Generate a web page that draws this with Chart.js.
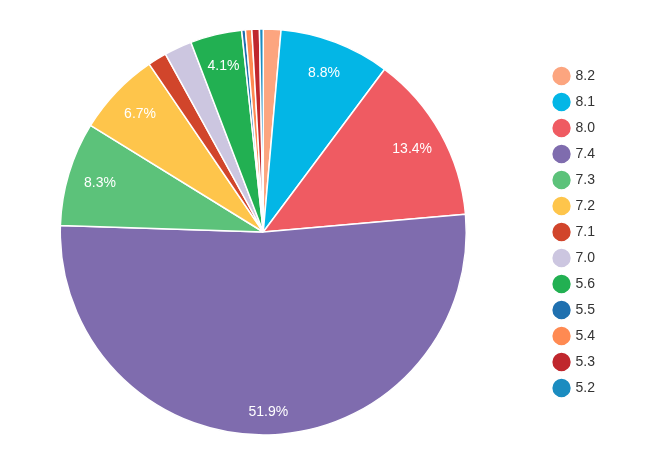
<!DOCTYPE html>
<html>
<head>
<meta charset="UTF-8">
<script src="https://cdn.jsdelivr.net/npm/chart.js"></script>
<style>
  * { margin: 0; padding: 0; }
  body { background: #fff; width: 647px; height: 464px; overflow: hidden; }
  #grafica { display: block; margin-left: -16px; }
</style>
</head>
<body>
<canvas id="grafica" width="663" height="464"></canvas>
<script>
// magnitudes, clockwise from 12 o'clock
const magnitudes = ['8.2', '8.1', '8.0', '7.4', '7.3', '7.2', '7.1', '7.0', '5.6', '5.5', '5.4', '5.3', '5.2'];
const porcentajes = [1.4, 8.8, 13.4, 51.9, 8.3, 6.7, 1.5, 2.2, 4.1, 0.3, 0.5, 0.6, 0.3];
const colores = ['#FCA57F', '#03B6E6', '#EF5B62', '#7F6CAE', '#5CC27A', '#FEC54B', '#D1452B',
                 '#CCC6E0', '#22B052', '#1F70AF', '#FF8A52', '#C0272D', '#1B8CC0'];

const etiquetas = {
  id: 'etiquetas',
  afterDatasetsDraw(chart) {
    const ctx = chart.ctx;
    const meta = chart.getDatasetMeta(0);
    const data = chart.data.datasets[0].data;
    const total = data.reduce((a, b) => a + b, 0);
    ctx.save();
    ctx.font = '14px "Liberation Sans", Arial, sans-serif';
    ctx.fillStyle = '#fff';
    ctx.textAlign = 'center';
    ctx.textBaseline = 'middle';
    meta.data.forEach((arc, i) => {
      const pct = data[i] / total * 100;
      if (pct < 4) return;
      const p = arc.getProps(['x', 'y', 'startAngle', 'endAngle', 'outerRadius'], true);
      const a = (p.startAngle + p.endAngle) / 2;
      const r = p.outerRadius * (pct > 40 ? 0.89 : 0.84);
      ctx.fillText(pct.toFixed(1) + '%', p.x + Math.cos(a) * r, p.y + Math.sin(a) * r);
    });
    ctx.restore();
  }
};

new Chart(document.getElementById('grafica'), {
  type: 'pie',
  data: {
    labels: magnitudes,
    datasets: [{
      data: porcentajes,
      backgroundColor: colores,
      borderColor: '#fff',
      borderWidth: 1.5
    }]
  },
  options: {
    responsive: false,
    animation: false,
    radius: 203,
    layout: { padding: { left: 0, right: 42, top: 20, bottom: 20 } },
    plugins: {
      tooltip: { enabled: false },
      legend: {
        position: 'right',
        labels: {
          usePointStyle: true,
          pointStyle: 'circle',
          boxWidth: 14,
          boxHeight: 14,
          padding: 12,
          color: '#333',
          font: { size: 14, family: '"Liberation Sans", Arial, sans-serif' }
        }
      }
    }
  },
  plugins: [etiquetas]
});
</script>
</body>
</html>
